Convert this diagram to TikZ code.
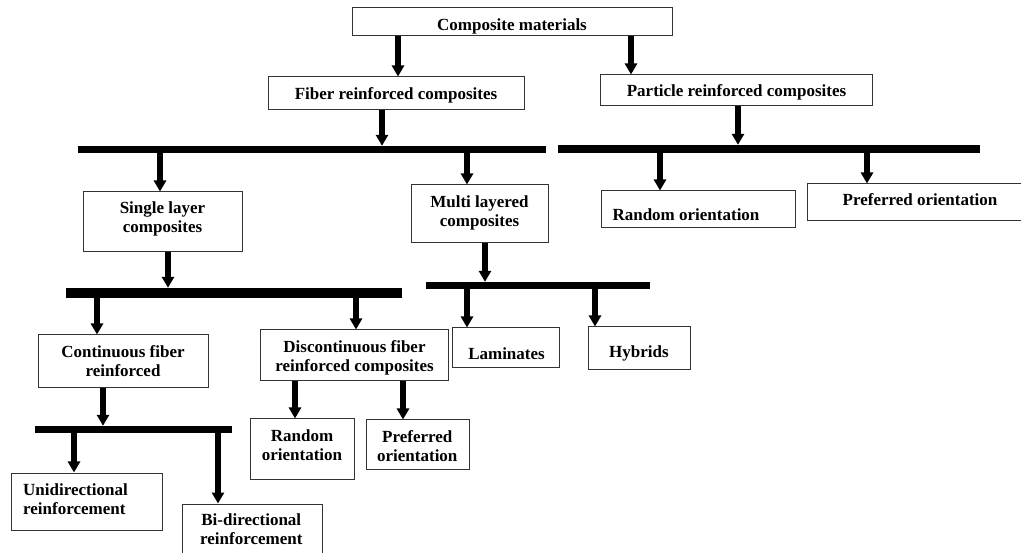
\documentclass[tikz,border=0pt]{standalone}
\usepackage{fontspec}
\setmainfont{Liberation Serif}
\usetikzlibrary{arrows.meta}
\begin{document}
\begin{tikzpicture}[x=1pt,y=-1pt,
  box/.style={draw=black!80, line width=1pt, inner sep=0pt},
  bar/.style={fill=black, draw=none, inner sep=0pt},
  txt/.style={inner sep=0pt, align=center, font=\bfseries\fontsize{17}{19}\selectfont},
  arr/.style={line width=6pt, -{Triangle[width=12pt,length=11pt]}}
]
\useasboundingbox[fill=white] (0,0) rectangle (1021,553);

% boxes
\node[box, minimum width=320pt, minimum height=28pt] (comp) at (512,22) {};
\node[box, minimum width=256pt, minimum height=33pt] (fiber) at (396,93.5) {};
\node[box, minimum width=272pt, minimum height=31pt] (part) at (736,90.5) {};
\node[box, minimum width=159pt, minimum height=60pt] (single) at (162.5,222) {};
\node[box, minimum width=137pt, minimum height=58pt] (multi) at (479.5,214) {};
\node[box, minimum width=194pt, minimum height=37pt] (randR) at (698,209.5) {};
\node[box, minimum width=223pt, minimum height=37pt] (prefR) at (918.5,202.5) {};
\node[box, minimum width=107pt, minimum height=40pt] (lam) at (505.5,348) {};
\node[box, minimum width=102pt, minimum height=43pt] (hyb) at (639,348.5) {};
\node[box, minimum width=170pt, minimum height=53pt] (cont) at (123,361.5) {};
\node[box, minimum width=188pt, minimum height=51pt] (disc) at (354,355.5) {};
\node[box, minimum width=151pt, minimum height=57pt] (uni) at (86.5,501.5) {};
\node[box, minimum width=140pt, minimum height=61pt] (bi) at (252,534.5) {};
\node[box, minimum width=104pt, minimum height=60pt] (randL) at (302,449) {};
\node[box, minimum width=103pt, minimum height=50pt] (prefL) at (417.5,445) {};

% texts
\node[txt] (comp-t) at (512,26.5) {\strut Composite materials};
\node[txt] (fiber-t) at (396,95.3) {\strut Fiber reinforced composites};
\node[txt] (part-t) at (736.5,92.7) {\strut Particle reinforced composites};
\node[txt] (single-t) at (162.5,219.7) {\strut Single layer\\\strut composites};
\node[txt] (multi-t) at (479.5,213) {\strut Multi layered\\\strut composites};
\node[txt] (randR-t) at (686,216.9) {\strut Random orientation};
\node[txt] (prefR-t) at (920,202.2) {\strut Preferred orientation};
\node[txt] (lam-t) at (506.5,355.5) {\strut Laminates};
\node[txt] (hyb-t) at (639,353.5) {\strut Hybrids};
\node[txt] (cont-t) at (123,363) {\strut Continuous fiber\\\strut reinforced};
\node[txt] (disc-t) at (354.5,358.4) {\strut Discontinuous fiber\\\strut reinforced composites};
\node[txt, align=left, anchor=west] (uni-t) at (23,500.7) {\strut Unidirectional\\\strut reinforcement};
\node[txt] (bi-t) at (251.3,530.7) {\strut Bi-directional\\\strut reinforcement};
\node[txt] (randL-t) at (302,447.4) {\strut Random\\\strut orientation};
\node[txt] (prefL-t) at (417.3,448) {\strut Preferred\\\strut orientation};

% bars
\node[bar, minimum width=468pt, minimum height=7pt] (b1) at (312,149.5) {};
\node[bar, minimum width=422pt, minimum height=8pt] (b2) at (769,149) {};
\node[bar, minimum width=336pt, minimum height=10pt] (b3) at (234,293) {};
\node[bar, minimum width=224pt, minimum height=7pt] (b4) at (538,285.5) {};
\node[bar, minimum width=197pt, minimum height=7pt] (b5) at (133.5,429.5) {};

% arrows
\draw[arr] (comp.south -| 398,0) -- (fiber.north -| 398,0);
\draw[arr] (comp.south -| 631,0) -- (part.north -| 631,0);
\draw[arr] (fiber.south -| 382,0) -- (b1.north -| 382,0);
\draw[arr] (part.south -| 738,0) -- (b2.north -| 738,0);
\draw[arr] (b1.south -| 160,0) -- (single.north -| 160,0);
\draw[arr] (b1.south -| 467,0) -- (multi.north -| 467,0);
\draw[arr] (b2.south -| 660,0) -- (randR.north -| 660,0);
\draw[arr] (b2.south -| 867,0) -- (prefR.north -| 867,0);
\draw[arr] (single.south -| 168,0) -- (b3.north -| 168,0);
\draw[arr] (multi.south -| 485,0) -- (b4.north -| 485,0);
\draw[arr] (b3.south -| 97,0) -- (cont.north -| 97,0);
\draw[arr] (b3.south -| 356,0) -- (disc.north -| 356,0);
\draw[arr] (b4.south -| 467,0) -- (lam.north -| 467,0);
\draw[arr] (b4.south -| 595,0) -- (hyb.north -| 595,0);
\draw[arr] (cont.south -| 103,0) -- (b5.north -| 103,0);
\draw[arr] (b5.south -| 74,0) -- (uni.north -| 74,0);
\draw[arr] (b5.south -| 218,0) -- (bi.north -| 218,0);
\draw[arr] (disc.south -| 295,0) -- (randL.north -| 295,0);
\draw[arr] (disc.south -| 403,0) -- (prefL.north -| 403,0);
\end{tikzpicture}
\end{document}
